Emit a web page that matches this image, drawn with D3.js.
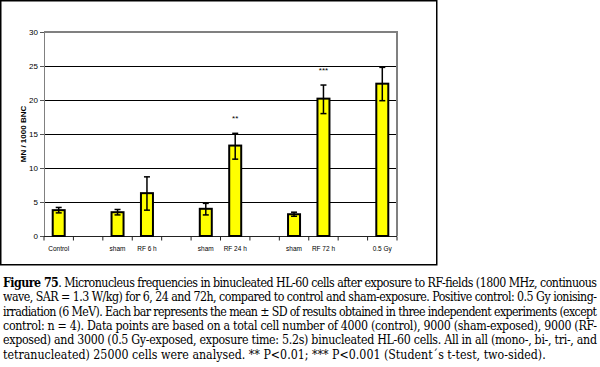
<!DOCTYPE html>
<html>
<head>
<meta charset="utf-8">
<script src="https://cdn.jsdelivr.net/npm/d3@7"></script>
<style>
  body { margin: 0; background: #fff; }
  svg { display: block; }
</style>
</head>
<body>
<script>
const WIDTH = 600;
const HEIGHT = 367;
const SANS = '"Liberation Sans", Arial, sans-serif';
const SERIF = '"DejaVu Serif", "Liberation Serif", serif';

// chart data (gap slots keep the spacing of the original chart)
var categories = ['control', 'gap1', 'sham6', 'rf6', 'gap2', 'sham24', 'rf24', 'gap3', 'sham72', 'rf72', 'gap4', 'gy'];
var labels = ['Control', '', 'sham', 'RF 6 h', '', 'sham', 'RF 24 h', '', 'sham', 'RF 72 h', '', '0.5 Gy'];
var means = [3.8, null, 3.5, 6.3, null, 4.0, 13.3, null, 3.2, 20.2, null, 22.4];
var errLow = [3.4, null, 3.1, 3.8, null, 3.1, 11.3, null, 2.9, 18.0, null, 19.9];
var errHigh = [4.2, null, 3.9, 8.7, null, 4.8, 15.1, null, 3.5, 22.2, null, 24.8];
var stars = ['', '', '', '', '', '', '**', '', '', '***', '', ''];
var yTicks = [0, 5, 10, 15, 20, 25, 30];
var yTickLabels = ['0', '5', '10', '15', '20', '25', '30'];

var captionLines = [
    [['Figure 75', true], ['. Micronucleus frequencies in binucleated HL-60 cells after exposure to RF-fields (1800 MHz, continuous', false]],
    [['wave, SAR = 1.3 W/kg) for 6, 24 and 72h, compared to control and sham-exposure. Positive control: 0.5 Gy ionising-', false]],
    [['irradiation (6 MeV). Each bar represents the mean \u00b1 SD of results obtained in three independent experiments (except', false]],
    [['control: n = 4). Data points are based on a total cell number of 4000 (control), 9000 (sham-exposed), 9000 (RF-', false]],
    [['exposed) and 3000 (0.5 Gy-exposed, exposure time: 5.2s) binucleated HL-60 cells. All in all (mono-, bi-, tri-, and', false]],
    [['tetranucleated) 25000 cells were analysed.  ** P<0.01; *** P<0.001 (Student\u00b4s t-test, two-sided).', false]]
];

var plot = { left: 44, right: 397, top: 32, bottom: 236 };

var svg = d3.select('body')
    .append('svg')
    .attr('width', WIDTH)
    .attr('height', HEIGHT);

svg.append('rect')
    .attr('width', WIDTH)
    .attr('height', HEIGHT)
    .attr('fill', '#fff');

// outer frame of the figure
svg.append('rect')
    .attr('x', 0.75)
    .attr('y', 0.75)
    .attr('width', 436)
    .attr('height', 264)
    .attr('fill', 'none')
    .attr('stroke', '#000')
    .attr('stroke-width', 1.5);

var x = d3.scaleBand()
    .domain(categories)
    .range([plot.left, plot.right]);

var y = d3.scaleLinear()
    .domain([0, 30])
    .range([plot.bottom, plot.top]);

// gridlines
svg.append('g')
    .selectAll('line')
    .data(yTicks.filter(function(d) { return d > 0 && d < 30; }))
    .enter()
    .append('line')
    .attr('x1', plot.left)
    .attr('x2', plot.right)
    .attr('y1', function(d) { return y(d) + 0.5; })
    .attr('y2', function(d) { return y(d) + 0.5; })
    .attr('stroke', '#000')
    .attr('stroke-width', 1);

// gray plot border top and right
svg.append('path')
    .attr('d', 'M' + plot.left + ',' + y(30) + 'H' + plot.right + 'V' + plot.bottom)
    .attr('fill', 'none')
    .attr('stroke', '#808080')
    .attr('stroke-width', 2);

// y axis
var yAxis = d3.axisLeft(y)
    .tickValues(yTicks)
    .tickFormat(function(d, i) { return yTickLabels[i]; })
    .tickSize(4)
    .tickPadding(2);

var gy = svg.append('g')
    .attr('transform', 'translate(' + plot.left + ',0)')
    .call(yAxis);
gy.select('.domain').attr('stroke', '#808080');
gy.selectAll('.tick line').attr('stroke', '#555');
gy.selectAll('text')
    .style('font-family', SANS)
    .style('font-size', '8px')
    .attr('fill', '#000');

// x axis with ticks between categories
var gx = svg.append('g')
    .attr('transform', 'translate(0,' + (plot.bottom + 0.5) + ')');
gx.append('line')
    .attr('x1', plot.left)
    .attr('x2', plot.right)
    .attr('stroke', '#222')
    .attr('stroke-width', 1);
var bounds = categories.map(function(c) { return x(c); }).concat([plot.right]);
gx.selectAll('.sep')
    .data(bounds)
    .enter()
    .append('line')
    .attr('class', 'sep')
    .attr('x1', function(d) { return d; })
    .attr('x2', function(d) { return d; })
    .attr('y1', 0)
    .attr('y2', 4)
    .attr('stroke', '#222');
gx.selectAll('.lab')
    .data(categories)
    .enter()
    .append('text')
    .attr('class', 'lab')
    .attr('x', function(d) { return x(d) + x.bandwidth() / 2; })
    .attr('y', 14)
    .attr('text-anchor', 'middle')
    .style('font-family', SANS)
    .style('font-size', '6.5px')
    .attr('fill', '#000')
    .text(function(d, i) { return labels[i]; });

// bars
var barW = 12;
var barData = categories.map(function(c, i) {
    return { cat: c, mean: means[i], lo: errLow[i], hi: errHigh[i], star: stars[i] };
}).filter(function(d) { return d.mean !== null; });

svg.append('g')
    .selectAll('rect')
    .data(barData)
    .enter()
    .append('rect')
    .attr('x', function(d) { return x(d.cat) + x.bandwidth() / 2 - barW / 2; })
    .attr('y', function(d) { return y(d.mean); })
    .attr('width', barW)
    .attr('height', function(d) { return plot.bottom - y(d.mean); })
    .attr('fill', '#ffff00')
    .attr('stroke', '#000')
    .attr('stroke-width', 2);

// error bars
var eb = svg.append('g')
    .selectAll('g')
    .data(barData)
    .enter()
    .append('g')
    .attr('stroke', '#000')
    .attr('stroke-width', 1.5);
eb.append('line')
    .attr('x1', function(d) { return x(d.cat) + x.bandwidth() / 2; })
    .attr('x2', function(d) { return x(d.cat) + x.bandwidth() / 2; })
    .attr('y1', function(d) { return y(d.lo); })
    .attr('y2', function(d) { return y(d.hi); });
eb.append('line')
    .attr('x1', function(d) { return x(d.cat) + x.bandwidth() / 2 - 3; })
    .attr('x2', function(d) { return x(d.cat) + x.bandwidth() / 2 + 3; })
    .attr('y1', function(d) { return y(d.hi); })
    .attr('y2', function(d) { return y(d.hi); });
eb.append('line')
    .attr('x1', function(d) { return x(d.cat) + x.bandwidth() / 2 - 3; })
    .attr('x2', function(d) { return x(d.cat) + x.bandwidth() / 2 + 3; })
    .attr('y1', function(d) { return y(d.lo); })
    .attr('y2', function(d) { return y(d.lo); });

// significance stars
svg.append('g')
    .selectAll('text')
    .data(barData.filter(function(d) { return d.star; }))
    .enter()
    .append('text')
    .attr('x', function(d) { return x(d.cat) + x.bandwidth() / 2; })
    .attr('y', function(d) { return y(d.hi) - 12; })
    .attr('text-anchor', 'middle')
    .style('font-family', SANS)
    .style('font-size', '8px')
    .attr('fill', '#000')
    .text(function(d) { return d.star; });

// y axis title
svg.append('text')
    .attr('transform', 'translate(26,' + y(15) + ') rotate(-90)')
    .attr('text-anchor', 'middle')
    .style('font-family', SANS)
    .style('font-weight', 'bold')
    .style('font-size', '8px')
    .attr('fill', '#000')
    .text('MN / 1000 BNC');

// caption, justified lines
var cap = svg.append('g');
cap.selectAll('text')
    .data(captionLines)
    .enter()
    .append('text')
    .attr('x', 3)
    .attr('y', function(d, i) { return 287 + i * 14.3; })
    .attr('textLength', function(d, i) { return i < captionLines.length - 1 ? 594 : null; })
    .attr('lengthAdjust', 'spacing')
    .style('font-family', SERIF)
    .style('font-stretch', 'condensed')
    .style('font-size', '12.3px')
    .attr('fill', '#000')
    .each(function(d) {
        var t = d3.select(this);
        d.forEach(function(p) {
            t.append('tspan')
                .style('font-weight', p[1] ? 'bold' : 'normal')
                .text(p[0]);
        });
    });
</script>
</body>
</html>
